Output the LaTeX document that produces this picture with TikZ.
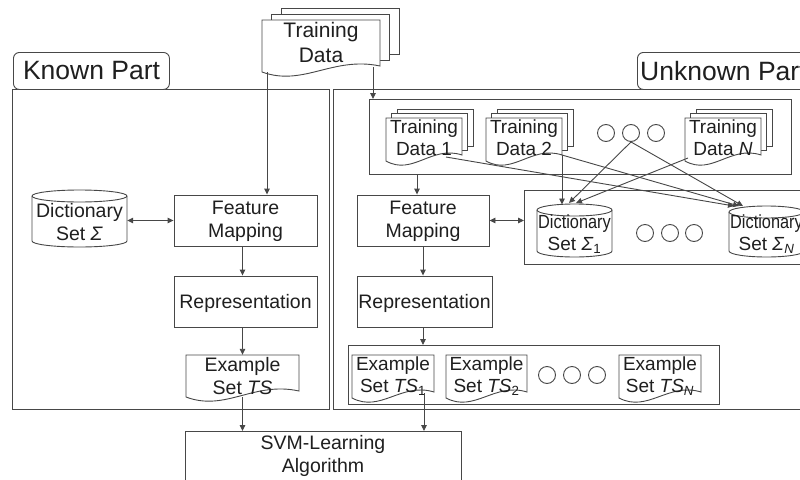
\documentclass[tikz,border=0pt]{standalone}
\usepackage{fontspec}
\setmainfont{Liberation Sans}
\usetikzlibrary{arrows.meta,calc}
\tikzset{
  ln/.style={draw=black!72, line width=0.9pt},
  box/.style={ln, fill=white, rectangle, inner sep=0pt},
  txt/.style={inner sep=0pt, align=center, text=black!88, font=\fontsize{19.5}{23.5}\selectfont},
  stxt/.style={inner sep=0pt, align=center, text=black!88, font=\fontsize{19}{22}\selectfont},
  arr/.style={ln, -{Triangle[length=6pt,width=5.5pt]}},
  darr/.style={ln, {Triangle[length=6pt,width=5.5pt]}-{Triangle[length=6pt,width=5.5pt]}},
  dot/.style={ln, circle, minimum size=17pt, inner sep=0pt},
}
% document shape: x1 y1 x2 yb
\newcommand\docshape[4]{\draw[ln,fill=white] (#1,#2) -- (#3,#2) -- (#3,{#4-6}) .. controls ({#1+0.6*(#3-#1)},{#4-16}) and ({#1+0.35*(#3-#1)},{#4+15}) .. (#1,#4) -- cycle;}
% stacked documents: x1 y1 x2 yb dx dy
\newcommand\stackdoc[6]{%
  \draw[ln,fill=white] ({#1+2*#5},{#2-2*#6}) rectangle ({#3+2*#5},{#4-6-2*#6});
  \draw[ln,fill=white] ({#1+#5},{#2-#6}) rectangle ({#3+#5},{#4-6-#6});
  \docshape{#1}{#2}{#3}{#4}}
% cylinder: x1 ytop x2 ybot rx
\newcommand\cylshape[5]{%
  \draw[ln,fill=white] (#1,{#2+6}) -- (#1,{#4-6}) arc[start angle=180,end angle=360,x radius=#5,y radius=6pt] -- (#3,{#2+6}) arc[start angle=0,end angle=180,x radius=#5,y radius=6pt] -- cycle;
  \draw[ln] (#1,{#2+6}) arc[start angle=180,end angle=360,x radius=#5,y radius=6pt];}
\begin{document}
\begin{tikzpicture}[x=1pt,y=-1pt]
\useasboundingbox (0,0) rectangle (800,479);
\clip (0,0) rectangle (800,479);
\fill[white] (0,0) rectangle (800,479);

% outer frames
\node[box, anchor=north west, minimum width=317, minimum height=320] (known) at (12,89) {};
\node[box, anchor=north west, minimum width=482, minimum height=320] (unknown) at (333,89) {};
\node[box, rounded corners=6pt, anchor=north west, minimum width=156, minimum height=37] (kpbox) at (13,52) {};
\node[txt, font=\fontsize{26.5}{30}\selectfont] (kp) at (91.5,71) {Known Part};
\node[box, rounded corners=6pt, anchor=north west, minimum width=200, minimum height=37] (ukbox) at (637,52) {};
\node[txt, font=\fontsize{26.5}{30}\selectfont, anchor=west] (ukp) at (640,71) {Unknown Part};

% top training data
\stackdoc{262}{20}{380}{72}{9.5}{6}
\node[txt, font=\fontsize{21}{25}\selectfont] (td) at (321,42.5) {Training\\Data};
\coordinate (tdl) at (267,72);
\coordinate (tdr) at (373,67);

% ---- known part ----
\cylshape{32}{190}{127}{247}{47.5pt}
\node[txt, minimum width=95, minimum height=57] (d0) at (79.5,222) {Dictionary\\Set \textit{Σ}};
\node[box, minimum width=143, minimum height=51] (fm1) at (245.5,220.5) {};
\node[txt] (fm1t) at (245.5,221.5) {Feature\\Mapping};
\node[box, minimum width=143, minimum height=51] (rep1) at (245.5,301.5) {};
\node[txt] (rep1t) at (245.5,303) {Representation};
\docshape{186}{355}{299}{397}
\node[txt, minimum width=113, minimum height=42] (ts) at (242.5,376) {Example\\Set \textit{TS}};

% SVM box
\node[box, anchor=north west, minimum width=276, minimum height=70] (svm) at (185,431) {};
\node[txt] (svmt) at (323,456) {SVM-Learning\\Algorithm};

% ---- unknown part ----
\node[box, anchor=north west, minimum width=422, minimum height=75] (tdg) at (369,99) {};
\stackdoc{386}{118}{462}{161}{5.5}{4.5}
\node[stxt] (td1) at (424,138) {Training\\Data 1};
\stackdoc{486}{118}{562}{161}{5.5}{4.5}
\node[stxt] (td2) at (524,138) {Training\\Data 2};
\stackdoc{685}{118}{761}{161}{5.5}{4.5}
\node[stxt] (tdn) at (723,138) {Training\\Data \textit{N}};
\node[dot] (c1) at (606,133) {};
\node[dot] (c2) at (631,133) {};
\node[dot] (c3) at (656,133) {};

\node[box, minimum width=132, minimum height=51] (fm2) at (423,220.5) {};
\node[txt] (fm2t) at (423,221.5) {Feature\\Mapping};

\node[box, anchor=north west, minimum width=291, minimum height=74] (dg) at (524,190) {};
\cylshape{537}{204}{612}{257}{37.5pt}
\node[stxt] (d1) at (574.5,234) {\scalebox{0.86}[1]{Dictionary}\\Set \textit{Σ}\textsubscript{1}};
\node[dot] (c4) at (645,233) {};
\node[dot] (c5) at (670,233) {};
\node[dot] (c6) at (694,233) {};
\cylshape{729}{206}{804}{257}{37.5pt}
\node[stxt] (dn) at (766.5,234) {\scalebox{0.86}[1]{Dictionary}\\Set \textit{Σ}\textsubscript{\textit{N}}};

\node[box, minimum width=135, minimum height=51] (rep2) at (424.5,301.5) {};
\node[txt] (rep2t) at (424.5,303) {Representation};

\node[box, anchor=north west, minimum width=371, minimum height=59] (eg) at (348,345) {};
\docshape{352}{355}{434}{398}
\node[stxt] (ts1) at (393,376) {Example\\Set \textit{TS}\textsubscript{1}};
\docshape{446}{355}{527}{398}
\node[stxt] (ts2) at (486.5,376) {Example\\Set \textit{TS}\textsubscript{2}};
\node[dot] (c7) at (547,375) {};
\node[dot] (c8) at (572,375) {};
\node[dot] (c9) at (597,375) {};
\docshape{619}{355}{701}{398}
\node[stxt] (tsn) at (660,376) {Example\\Set \textit{TS}\textsubscript{\textit{N}}};

% ---- connectors ----
\draw[arr] (tdl) -- (tdl |- fm1.north);
\draw[arr] (tdr) -- (tdr |- tdg.north);
\draw[darr] (d0.east |- fm1.west) -- (fm1.west);
\draw[arr] (fm1.south -| ts.north) -- (rep1.north -| ts.north);
\draw[arr] (rep1.south -| ts.north) -- (ts.north);
\draw[arr] (ts.south) -- (ts.south |- svm.north);

\coordinate (a2) at (417,174);
\draw[arr] (a2) -- (a2 |- fm2.north);
\draw[darr] (fm2.east) -- (fm2.east -| dg.west);
\draw[arr] (fm2.south) -- (rep2.north -| fm2.south);
\draw[arr] (rep2.south -| fm2.south) -- (eg.north -| fm2.south);
\coordinate (ts1o) at (424,393);
\draw[arr] (ts1o) -- (ts1o |- svm.north);

\coordinate (td1o) at (446,157);
\coordinate (td2o) at (562,155);
\coordinate (tdno) at (688,158);
\coordinate (s1a) at (562,204.5);
\coordinate (s1b) at (569,203);
\coordinate (s1c) at (576,203);
\coordinate (sna) at (734,206);
\coordinate (snb) at (739,206);
\coordinate (snc) at (743,206);
\draw[arr] (td1o) -- (sna);
\draw[arr] (td2o) -- (s1a);
\draw[arr] (td2o) -- (snb);
\draw[arr] (c2.south) -- (s1b);
\draw[arr] (c2.south) -- (snc);
\draw[arr] (tdno) -- (s1c);
\end{tikzpicture}
\end{document}
